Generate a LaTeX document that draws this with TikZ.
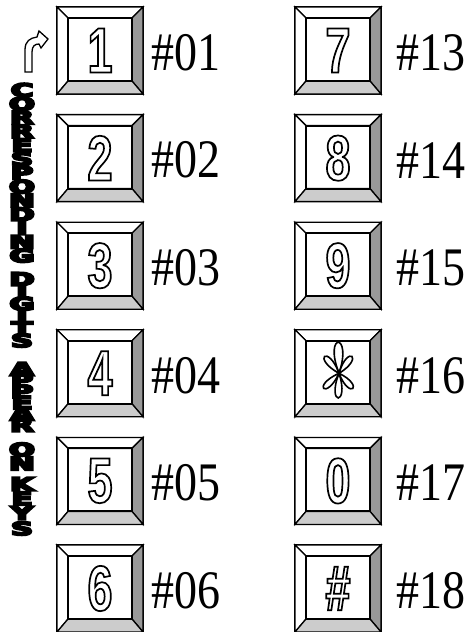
\documentclass[tikz,border=0pt]{standalone}
\usepackage{fontspec}
\setmainfont{Liberation Serif}
\newfontfamily\keyfont[FakeStretch=0.7]{Liberation Sans}
\newfontfamily\sidefont{DejaVu Sans}
\usepackage{graphicx}
\usepackage{tikz}
\usetikzlibrary{calc, positioning}

\newcommand{\outl}[1]{\special{pdf:literal direct 1 Tr 1.7 w}#1\special{pdf:literal direct 0 Tr}}
\newcommand{\heavy}[1]{\special{pdf:literal direct 2 Tr 2 w}#1\special{pdf:literal direct 0 Tr}}
\newcommand{\lab}[1]{\scalebox{1}[1.18]{\##1}}
\newcommand{\bevel}[1]{%
  \draw[bev, fill=white] (#1.north west) -- (#1.north east) -- ($(#1.north east)+(-11,11)$) -- ($(#1.north west)+(11,11)$) -- cycle;
  \draw[bev, fill=white] (#1.north west) -- ($(#1.north west)+(11,11)$) -- ($(#1.south west)+(11,-13)$) -- (#1.south west) -- cycle;
  \draw[bev, fill=black!40] (#1.north east) -- (#1.south east) -- ($(#1.south east)+(-11,-13)$) -- ($(#1.north east)+(-11,11)$) -- cycle;
  \draw[bev, fill=black!20] (#1.south west) -- ($(#1.south west)+(11,-13)$) -- ($(#1.south east)+(-11,-13)$) -- (#1.south east) -- cycle;
  \draw[line width=2pt] ($(#1.north west)+(11,11)$) rectangle ($(#1.south east)+(-11,-13)$);
}
\tikzset{
  keycap/.style={draw, line width=1.3pt, fill=white, minimum width=86pt, minimum height=87pt,
    inner sep=0pt, outer sep=0pt, font=\keyfont\bfseries\fontsize{64}{64}\selectfont},
  bev/.style={line width=1.3pt, line join=miter},
  hash/.style={anchor=west, inner sep=0pt, font=\fontsize{46}{46}\selectfont},
  side/.style={inner sep=0pt, font=\sidefont\bfseries\fontsize{19}{19}\selectfont},
  petal/.style={line width=1.6pt}
}

\begin{document}
\begin{tikzpicture}[x=1pt, y=-1pt]
    \useasboundingbox (0,0) rectangle (471,632);
    \node[keycap] (key1) at (100,50.5) {\outl{1}};
    \node[keycap] (key2) at (100,50.5+107.6*1) {\outl{2}};
    \node[keycap] (key3) at (100,50.5+107.6*2) {\outl{3}};
    \node[keycap] (key4) at (100,50.5+107.6*3) {\outl{4}};
    \node[keycap] (key5) at (100,50.5+107.6*4) {\outl{5}};
    \node[keycap] (key6) at (100,50.5+107.6*5) {\outl{6}};
    \node[keycap] (key13) at (338,50.5) {\outl{7}};
    \node[keycap] (key14) at (338,50.5+107.6*1) {\outl{8}};
    \node[keycap] (key15) at (338,50.5+107.6*2) {\outl{9}};
    \node[keycap] (key16) at (338,50.5+107.6*3) {};
    \node[keycap] (key17) at (338,50.5+107.6*4) {\outl{0}};
    \node[keycap] (key18) at (338,50.5+107.6*5) {\outl{\#}};
    \bevel{key1} \bevel{key2} \bevel{key3} \bevel{key4} \bevel{key5} \bevel{key6}
    \bevel{key13} \bevel{key14} \bevel{key15} \bevel{key16} \bevel{key17} \bevel{key18}
    \begin{scope}[shift={(key16.center)}, y=1pt]
        \draw[petal] (1,0) .. controls (70:44) and (110:44) .. (1,0);
        \draw[petal] (1,0) .. controls (250:35) and (290:35) .. (1,0);
        \draw[petal] (1,0) .. controls (30:31) and (72:31) .. (1,0);
        \draw[petal] (1,0) .. controls (108:31) and (150:31) .. (1,0);
        \draw[petal] (1,0) .. controls (205:30) and (247:30) .. (1,0);
        \draw[petal] (1,0) .. controls (293:30) and (335:30) .. (1,0);
    \end{scope}
    \node[hash] (num1) at (151,52.5) {\lab{01}};
    \node[hash] (num2) at (151,52.5+107.6*1) {\lab{02}};
    \node[hash] (num3) at (151,52.5+107.6*2) {\lab{03}};
    \node[hash] (num4) at (151,52.5+107.6*3) {\lab{04}};
    \node[hash] (num5) at (151,52.5+107.6*4) {\lab{05}};
    \node[hash] (num6) at (151,52.5+107.6*5) {\lab{06}};
    \node[hash] (num13) at (396,52.5) {\lab{13}};
    \node[hash] (num14) at (396,52.5+107.6*1) {\lab{14}};
    \node[hash] (num15) at (396,52.5+107.6*2) {\lab{15}};
    \node[hash] (num16) at (396,52.5+107.6*3) {\lab{16}};
    \node[hash] (num17) at (396,52.5+107.6*4) {\lab{17}};
    \node[hash] (num18) at (396,52.5+107.6*5) {\lab{18}};
    \draw[line width=1.3pt, fill=white] (25,72) -- (25,50) .. controls (25,41) and (30,38) .. (37,37)
        -- (39,31) -- (48,39) -- (41,48) -- (39,44) .. controls (35,44) and (32,46) .. (32,52) -- (32,72) -- cycle;
    \foreach \ch/\yy [count=\i] in {C/90, O/103.8, R/117.6, R/131.4, E/145.2, S/159, P/172.8, O/186.6,
        N/200.4, D/214.2, I/228, N/241.8, G/255.6, D/279, I/291.3, G/303.6, I/315.9, T/328.2, S/340.5,
        A/369, P/380.2, P/391.4, E/402.6, A/413.8, R/425, O/449.5, N/463.5, K/484, E/498.5, Y/513, S/528.5}
        \node[side] (ch\i) at (22,\yy) {\scalebox{1.6}[0.95]{\heavy{\ch}}};
\end{tikzpicture}
\end{document}
